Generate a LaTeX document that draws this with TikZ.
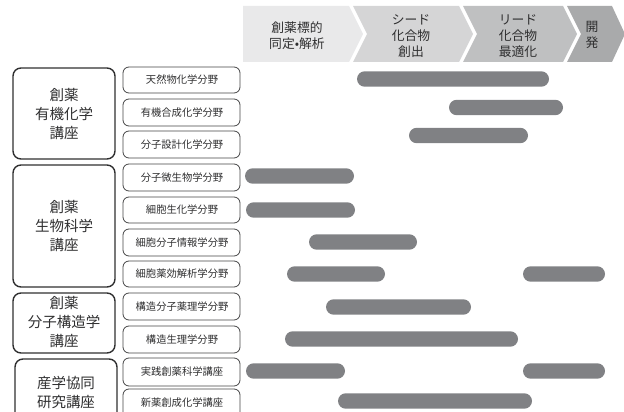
\documentclass[tikz,border=0pt]{standalone}
\usepackage{fontspec}
\setmainfont{Noto Sans CJK JP}
\definecolor{txt}{HTML}{2F2F30}
\definecolor{ch1}{HTML}{E9E9EA}
\definecolor{ch2}{HTML}{D5D5D6}
\definecolor{ch3}{HTML}{BFC0C1}
\definecolor{ch4}{HTML}{A9AAAB}
\definecolor{barc}{HTML}{808184}
\tikzset{
  bigbox/.style={draw=txt, line width=1.4pt, rounded corners=8pt},
  smallbox/.style={draw=txt!90, line width=0.8pt, rounded corners=6pt},
  bigtxt/.style={text=txt, align=center, font=\fontsize{14.5}{19}\selectfont, inner sep=0pt},
  smalltxt/.style={text=txt, align=center, font=\fontsize{10.3}{12}\selectfont, inner sep=0pt},
  headtxt/.style={text=txt, align=center, font=\fontsize{12.8}{16}\selectfont, inner sep=0pt},
  barfill/.style={fill=barc, rounded corners=7.7pt},
}
\begin{document}
\begin{tikzpicture}[x=1pt, y=-1pt]
\useasboundingbox (0,0) rectangle (624,412);
\clip (0,0) rectangle (624,412);
% header chevrons
\fill[ch1] (243,6) -- (349,6) -- (363,34) -- (349,62) -- (243,62) -- cycle;
\fill[ch2] (353,6) -- (459,6) -- (473,34) -- (459,62) -- (353,62) -- (367,34) -- cycle;
\fill[ch3] (463,6) -- (563,6) -- (577,34) -- (563,62) -- (463,62) -- (477,34) -- cycle;
\fill[ch4] (567,6) -- (612,6) -- (625,34) -- (612,62) -- (567,62) -- (581,34) -- cycle;
\node[headtxt] (h1) at (297,36) {創薬標的\\同定•解析};
\node[headtxt] (h2) at (411,36) {シード\\化合物\\創出};
\node[headtxt] (h3) at (518,36) {リード\\化合物\\最適化};
\node[headtxt] (h4) at (592,35) {開\\発};
% big boxes
\draw[bigbox] (13,68) rectangle (115,159);
\draw[bigbox] (13,165) rectangle (115,287);
\draw[bigbox] (13,293) rectangle (115,353);
\draw[bigbox] (15,359) rectangle (117,425);
\node[bigtxt] (b1) at (64,114) {創薬\\有機化学\\講座};
\node[bigtxt] (b2) at (64,226) {創薬\\生物科学\\講座};
\node[bigtxt] (b3) at (64,322) {創薬\\分子構造学\\講座};
\node[bigtxt] (b4) at (66,392) {産学協同\\研究講座};
% small boxes
\foreach \t/\b in {67/93, 99/126, 131/158, 164/191, 197/223, 229/256,
  261/287, 293/320, 326/353, 358/386, 389/420}{
  \draw[smallbox] (123,\t) rectangle (240,\b);
}
\node[smalltxt] (s1) at (182,80) {天然物化学分野};
\node[smalltxt] (s2) at (182,112.5) {有機合成化学分野};
\node[smalltxt] (s3) at (182,144.5) {分子設計化学分野};
\node[smalltxt] (s4) at (182,177.5) {分子微生物学分野};
\node[smalltxt] (s5) at (182,210) {細胞生化学分野};
\node[smalltxt] (s6) at (182,242.5) {細胞分子情報学分野};
\node[smalltxt] (s7) at (182,274) {細胞薬効解析学分野};
\node[smalltxt] (s8) at (182,306.5) {構造分子薬理学分野};
\node[smalltxt] (s9) at (182,339.5) {構造生理学分野};
\node[smalltxt] (s10) at (182,372) {実践創薬科学講座};
\node[smalltxt] (s11) at (182,403) {新薬創成化学講座};
% bars
\foreach \xa/\xb/\yc in {
  357/549/79, 449/563/107.5, 409/528/135.5,
  245/354/176, 246/355/210, 309/417/242,
  287/385/274, 523/605/274,
  326/471/307, 285/518/339,
  246/345/371, 523/605/371,
  338/532/401}{
  \fill[barfill] (\xa,\yc-7.7) rectangle (\xb,\yc+7.7);
}
\end{tikzpicture}
\end{document}
